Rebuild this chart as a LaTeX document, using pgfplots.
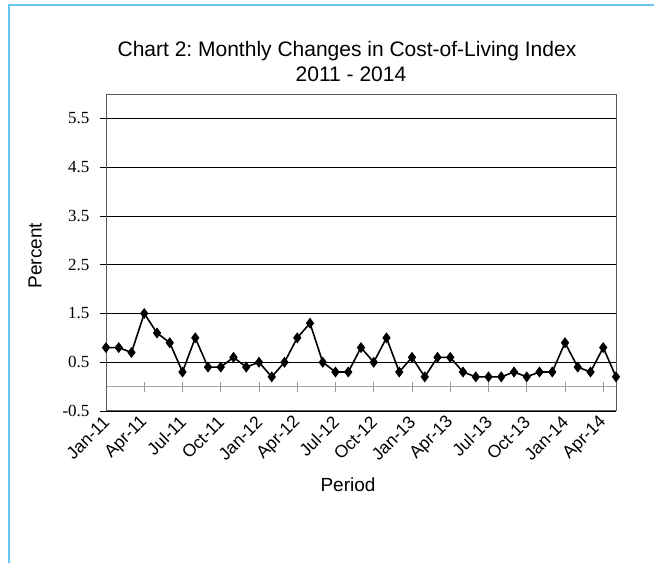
\documentclass[border=0pt]{standalone}
\usepackage{pgfplots}
\pgfplotsset{compat=1.18}
\usepackage{fontspec}
\setmainfont{Liberation Sans}
\newfontfamily\timesfont{Liberation Serif}
\definecolor{frameblue}{RGB}{100,200,240}
\pgfplotstableread{
idx val
0 0.8
1 0.8
2 0.7
3 1.5
4 1.1
5 0.9
6 0.3
7 1.0
8 0.4
9 0.4
10 0.6
11 0.4
12 0.5
13 0.2
14 0.5
15 1.0
16 1.3
17 0.5
18 0.3
19 0.3
20 0.8
21 0.5
22 1.0
23 0.3
24 0.6
25 0.2
26 0.6
27 0.6
28 0.3
29 0.2
30 0.2
31 0.2
32 0.3
33 0.2
34 0.3
35 0.3
36 0.9
37 0.4
38 0.3
39 0.8
40 0.2
}\cpidata
\begin{document}
\frenchspacing
\begin{tikzpicture}[x=1pt,y=1pt]
\useasboundingbox (0,0) rectangle (654,563);
\draw[frameblue, line width=1.6pt] (9,0) -- (9,558) -- (654,558);
% zero line with category ticks
\begin{axis}[at={(106pt,152pt)}, anchor=south west, scale only axis,
  width=510pt, height=317pt,
  xmin=0, xmax=40, ymin=-0.5, ymax=6,
  axis x line=middle, axis y line=none,
  axis line style={-, black!35, line width=1pt},
  xtick={3,6,...,39}, xticklabels={},
  ytick=\empty,
  tick align=center, major tick length=10pt,
  every tick/.style={black!40, line width=0.8pt},
]
\end{axis}
\begin{axis}[at={(106pt,152pt)}, anchor=south west, scale only axis,
  width=510pt, height=317pt,
  xmin=0, xmax=40, ymin=-0.5, ymax=6,
  ytick={-0.5,0.5,1.5,2.5,3.5,4.5,5.5},
  yticklabels={-0.5,0.5,1.5,2.5,3.5,4.5,5.5},
  yticklabel style={font=\timesfont\fontsize{17}{17}\selectfont, xshift=-7pt},
  ytick pos=left, tick align=outside, major tick length=6pt,
  ymajorgrids, grid style={black, line width=0.8pt},
  xtick={0,3,...,39},
  xticklabels={Jan-11,Apr-11,Jul-11,Oct-11,Jan-12,Apr-12,Jul-12,Oct-12,Jan-13,Apr-13,Jul-13,Oct-13,Jan-14,Apr-14},
  xticklabel style={rotate=45, anchor=east, font=\fontsize{17.5}{17.5}\selectfont, yshift=-2pt, xshift=2pt},
  xtick style={draw=none},
  ytick style={black, line width=0.8pt},
  axis line style={black!65, line width=1pt},
  clip=false,
]
\addplot[black, line width=1.6pt, mark=diamond*, mark size=4.2pt,
  mark options={solid, fill=black}]
  table[x=idx, y=val] {\cpidata};
\end{axis}
\node[anchor=base, font=\fontsize{21}{21}\selectfont] at (347,506.3) {Chart 2: Monthly Changes in Cost-of-Living Index};
\node[anchor=base, font=\fontsize{21}{21}\selectfont] at (351,481) {2011 - 2014};
\node[rotate=90, anchor=base, font=\fontsize{19}{19}\selectfont] at (41.7,307.5) {Percent};
\node[anchor=base, font=\fontsize{19}{19}\selectfont] at (348,71) {Period};
\end{tikzpicture}
\end{document}
